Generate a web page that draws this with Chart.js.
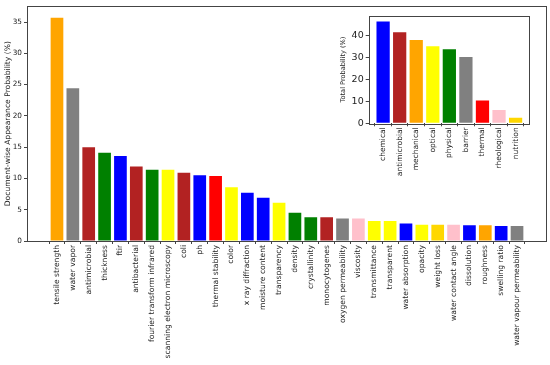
<!DOCTYPE html>
<html><head><meta charset="utf-8">
<script src="https://cdn.jsdelivr.net/npm/chart.js@4"></script>
<style>
html,body{margin:0;padding:0;background:#fff;}
#wrap{position:relative;width:550px;height:365px;overflow:hidden;}
#main{position:absolute;left:0;top:0;}
#inset{position:absolute;left:320px;top:0;}
</style></head><body>
<div id="wrap"><canvas id="main" width="550" height="365"></canvas><canvas id="inset" width="220" height="200"></canvas></div>
<script>
// ---- data ----
const terms = ['tensile strength','water vapor','antimicrobial','thickness','ftir','antibacterial','fourier transform infrared','scanning electron microscopy','coli','ph','thermal stability','color','x ray diffraction','moisture content','transparency','density','crystallinity','monocytogenes','oxygen permeability','viscosity','transmittance','transparent','water absorption','opacity','weight loss','water contact angle','dissolution','roughness','swelling ratio','water vapour permeability'];
const termValues = [35.7, 24.4, 15.0, 14.1, 13.6, 11.9, 11.4, 11.4, 10.9, 10.5, 10.4, 8.6, 7.7, 6.9, 6.1, 4.5, 3.8, 3.8, 3.6, 3.6, 3.2, 3.2, 2.8, 2.6, 2.6, 2.6, 2.5, 2.5, 2.4, 2.4];
const termGroups = ['mechanical','barrier','antimicrobial','physical','chemical','antimicrobial','physical','optical','antimicrobial','chemical','thermal','optical','chemical','chemical','optical','physical','physical','antimicrobial','barrier','rheological','optical','optical','chemical','optical','nutrition','rheological','chemical','mechanical','chemical','barrier'];
const categories = ['chemical','antimicrobial','mechanical','optical','physical','barrier','thermal','rheological','nutrition'];
const categoryValues = [46.6, 41.7, 38.2, 35.3, 33.9, 30.4, 10.4, 6.1, 2.6];
const mainYTicks = [0, 5, 10, 15, 20, 25, 30, 35];
const insetYTicks = [0, 10, 20, 30, 40];
const mainYTitle = 'Document-wise Appearance Probability (%)';
const insetYTitle = 'Total Probability (%)';

// ---- styles ----
const groupColors = {chemical:'#0000ff', antimicrobial:'#b22222', mechanical:'#ffa500', optical:'#ffff00', physical:'#008000', barrier:'#808080', thermal:'#ff0000', rheological:'#ffc0cb', nutrition:'#ffd700'};
const FONT = 'DejaVu Sans';
const INK = '#222';
const SPINE = '#444';

const framePlugin = {id:'frame', afterDraw(chart){
  const {ctx, chartArea:a} = chart;
  ctx.save(); ctx.strokeStyle = SPINE; ctx.lineWidth = 1;
  ctx.strokeRect(Math.round(a.left)+0.5, Math.round(a.top)+0.5, Math.round(a.right-a.left)-1, Math.round(a.bottom-a.top));
  ctx.restore();
}};

function makeChart(canvas, labels, values, colors, cfg){
  return new Chart(canvas, {
    type:'bar',
    data:{datasets:[{data: labels.map((l,i)=>({x:i, y:values[i]})), backgroundColor: colors, borderWidth:0, barPercentage:0.8, categoryPercentage:1.0}]},
    options:{
      responsive:false, animation:false, devicePixelRatio:1,
      layout:{padding:cfg.padding},
      plugins:{legend:{display:false}, tooltip:{enabled:false}},
      scales:{
        x:{type:'linear', min:cfg.xmin, max:cfg.xmax, offset:false,
          afterBuildTicks: ax => { ax.ticks = labels.map((l,i)=>({value:i})); },
          afterFit: ax => { ax.height = cfg.xh; },
          grid:{display:true, drawOnChartArea:false, drawTicks:true, tickLength:3, color:SPINE},
          border:{display:false},
          ticks:{autoSkip:false, minRotation:90, maxRotation:90, padding:1, color:INK, font:{family:FONT, size:cfg.xfont}, callback: v => labels[v]}
        },
        y:{min:0, max:cfg.ymax,
          afterBuildTicks: ax => { ax.ticks = cfg.yticks.map(v=>({value:v})); },
          afterFit: ax => { ax.width = cfg.yw; },
          grid:{display:true, drawOnChartArea:false, drawTicks:true, tickLength:3, color:SPINE},
          border:{display:false},
          ticks:{padding:2, color:INK, font:{family:FONT, size:cfg.yfont}},
          title:{display:true, text:cfg.title, color:INK, font:{family:FONT, size:cfg.tfont}, padding:{top:cfg.tpad, bottom:0}}
        }
      }
    },
    plugins:[framePlugin]
  });
}

makeChart(document.getElementById('main'), terms, termValues, termGroups.map(g=>groupColors[g]), {
  padding:{top:3, right:3, left:0, bottom:0}, xmin:-1.89, xmax:30.89, xh:124, yw:27,
  ymax:37.5, yticks:mainYTicks, xfont:7.6, yfont:7.3, title:mainYTitle, tfont:7.6, tpad:3.5
});
makeChart(document.getElementById('inset'), categories, categoryValues, categories.map(g=>groupColors[g]), {
  padding:{top:15.7, right:10, left:0, bottom:0}, xmin:-0.87, xmax:8.87, xh:76.7, yw:48.7,
  ymax:49.3, yticks:insetYTicks, xfont:7.5, yfont:9.5, title:insetYTitle, tfont:6.6, tpad:19.4
});
</script>
</body></html>
